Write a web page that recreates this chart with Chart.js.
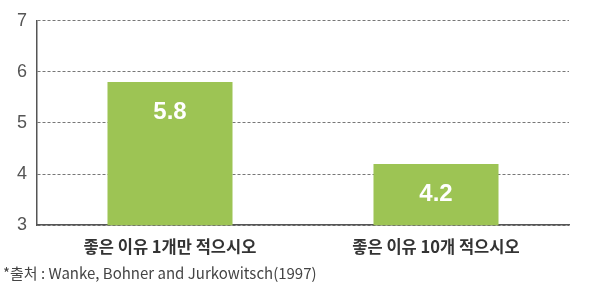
<!DOCTYPE html>
<html>
<head>
<meta charset="utf-8">
<script src="https://cdn.jsdelivr.net/npm/chart.js@4.4.1/dist/chart.umd.min.js"></script>
<style>
  html, body { margin: 0; padding: 0; background: #fff; }
  #wrap { width: 591px; height: 289px; position: relative; }
</style>
</head>
<body>
<div id="wrap"><canvas id="chart" width="591" height="289"></canvas></div>
<script>
var categories = ['좋은 이유 1개만 적으시오', '좋은 이유 10개 적으시오'];
var values = [5.8, 4.2];
var yTicks = [3, 4, 5, 6, 7];
var source = '*출처 : Wanke, Bohner and Jurkowitsch(1997)';

// white value text inside each bar, near its top
var valueLabels = {
	id: 'valueLabels',
	afterDatasetsDraw: function(chart) {
		var ctx = chart.ctx;
		var meta = chart.getDatasetMeta(0);
		ctx.save();
		ctx.fillStyle = '#ffffff';
		ctx.font = 'bold 24px "Liberation Sans", Arial, sans-serif';
		ctx.textAlign = 'center';
		ctx.textBaseline = 'middle';
		meta.data.forEach(function(bar, i) {
			ctx.fillText(values[i].toFixed(1), bar.x, bar.y + 30);
		});
		ctx.restore();
	}
};

var chart = new Chart(document.getElementById('chart'), {
	type: 'bar',
	data: {
		labels: categories,
		datasets: [
			{
				data: values,
				backgroundColor: '#9dc454',
				borderWidth: 0,
				categoryPercentage: 1.0,
				barPercentage: 0.47
			}
		]
	},
	options: {
		responsive: false,
		animation: false,
		layout: {
			padding: { left: 3, right: 22, top: 8, bottom: 0 }
		},
		plugins: {
			legend: { display: false },
			tooltip: { enabled: false },
			title: {
				display: true,
				text: source,
				position: 'bottom',
				align: 'start',
				color: '#444',
				font: { family: '"Noto Sans CJK KR", sans-serif', size: 15, weight: 'normal' },
				padding: { top: 3, bottom: 7 }
			}
		},
		scales: {
			x: {
				grid: { display: false },
				border: { display: true, color: '#555', width: 1.5 },
				ticks: {
					color: '#333',
					padding: 4,
					font: { family: '"Noto Sans CJK KR", sans-serif', size: 16.5, weight: 'bold' }
				}
			},
			y: {
				min: 3,
				max: 7,
				afterBuildTicks: function(axis) {
					axis.ticks = yTicks.map(function(v) { return { value: v }; });
				},
				afterFit: function(axis) {
					axis.width = 34;
				},
				grid: { color: '#777', lineWidth: 1, drawTicks: false },
				border: { display: true, color: '#555', width: 1.5, dash: [3, 2] },
				ticks: {
					color: '#555',
					padding: 10,
					font: { family: '"Liberation Sans", Arial, sans-serif', size: 18 }
				}
			}
		}
	},
	plugins: [valueLabels]
});
</script>
</body>
</html>
